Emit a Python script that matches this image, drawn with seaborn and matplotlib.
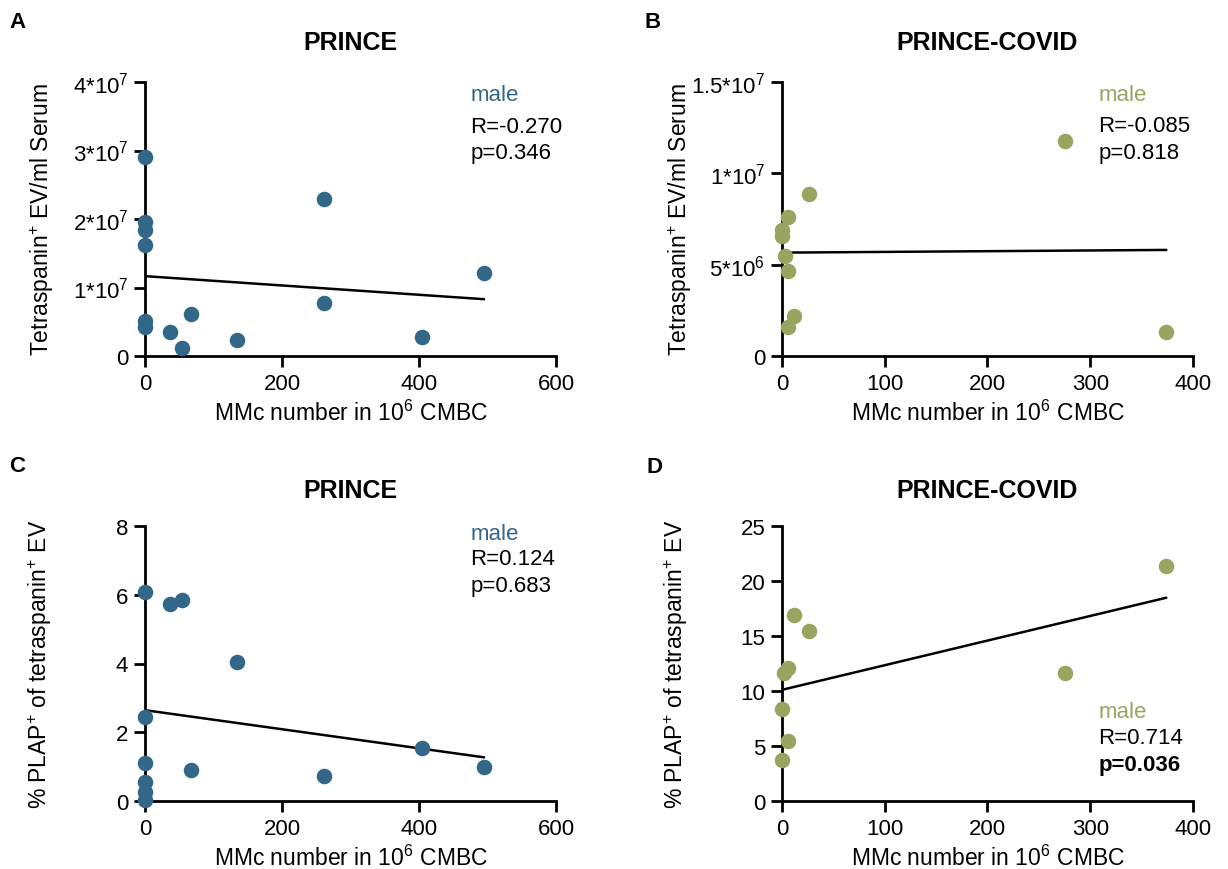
import numpy as np
import matplotlib
matplotlib.use('Agg')
import matplotlib.pyplot as plt
import seaborn as sns

# PRINCE (male) - MMc number vs EV counts / PLAP fraction
a_mmc = [0, 0, 0, 0, 0, 0, 36, 54, 67, 135, 261, 261, 405, 495]
a_ev = [2.90e7, 1.96e7, 1.84e7, 1.62e7, 0.51e7, 0.43e7, 0.35e7, 0.12e7, 0.62e7, 0.24e7, 2.29e7, 0.78e7, 0.28e7, 1.215e7]

c_mmc = [0, 0, 0, 0, 0, 0, 36, 54, 67, 135, 261, 405, 495]
c_plap = [6.08, 2.45, 1.11, 0.56, 0.27, 0.04, 5.73, 5.86, 0.90, 4.04, 0.73, 1.55, 1.00]

# PRINCE-COVID (male)
b_mmc = [0, 0, 5.5, 2.6, 5.5, 12, 5.5, 26, 275, 374]
b_ev = [0.688e7, 0.657e7, 0.76e7, 0.545e7, 0.464e7, 0.218e7, 0.157e7, 0.888e7, 1.177e7, 0.133e7]

d_mmc = [12, 26, 5.5, 1.6, 0, 5.5, 0, 275, 374]
d_plap = [16.88, 15.5, 12.1, 11.6, 8.33, 5.5, 3.7, 11.6, 21.4]

stats_a = ['male', 'R=-0.270', 'p=0.346']
stats_b = ['male', 'R=-0.085', 'p=0.818']
stats_c = ['male', 'R=0.124', 'p=0.683']
stats_d = ['male', 'R=0.714', 'p=0.036']

ev_label = 'Tetraspanin$^{+}$ EV/ml Serum'
plap_label = '% PLAP$^{+}$ of tetraspanin$^{+}$ EV'
x_label = 'MMc number in 10$^{6}$ CMBC'

a_yticks = [0, 1e7, 2e7, 3e7, 4e7]
a_yticklabels = ['0', '1*10$^{7}$', '2*10$^{7}$', '3*10$^{7}$', '4*10$^{7}$']
b_yticks = [0, 5e6, 1e7, 1.5e7]
b_yticklabels = ['0', '5*10$^{6}$', '1*10$^{7}$', '1.5*10$^{7}$']
c_yticks = [0, 2, 4, 6, 8]
d_yticks = [0, 5, 10, 15, 20, 25]
prince_xticks = [0, 200, 400, 600]
covid_xticks = [0, 100, 200, 300, 400]

blue = '#33678a'
green = '#97a560'

sns.set_style('ticks')
plt.rcParams['font.family'] = ['Liberation Sans', 'DejaVu Sans']
plt.rcParams['mathtext.fontset'] = 'custom'
plt.rcParams['mathtext.rm'] = 'Liberation Sans'
plt.rcParams['mathtext.it'] = 'Liberation Sans'
plt.rcParams['mathtext.default'] = 'regular'
for k in ['text.color', 'axes.labelcolor', 'xtick.color', 'ytick.color']:
    plt.rcParams[k] = 'black'

fig = plt.figure(figsize=(12.28, 8.7), dpi=100)
W, H = 1228, 870


def make_ax(left, top, right, bottom):
    return fig.add_axes([left / W, 1 - bottom / H, (right - left) / W, (bottom - top) / H])


def panel(ax, x, y, color, title, xticks, yticks, yticklabels, ylabel,
          ylabel_x, title_off, stats, stats_pos, letter, letter_xy, bold_p=False):
    sns.regplot(x=np.array(x), y=np.array(y), ax=ax, ci=None, color=color,
                scatter_kws={'s': 125, 'clip_on': False, 'zorder': 4, 'alpha': 1, 'linewidths': 0},
                line_kws={'color': 'black', 'lw': 1.8, 'zorder': 3})
    ax.set_xlim(xticks[0], xticks[-1])
    ax.set_ylim(yticks[0], yticks[-1])
    ax.set_xticks(xticks)
    ax.set_xticklabels([str(t) for t in xticks])
    ax.set_yticks(yticks)
    ax.set_yticklabels(yticklabels)
    sns.despine(ax=ax)
    for s in ['left', 'bottom']:
        ax.spines[s].set_linewidth(2)
        ax.spines[s].set_color('black')
    ax.tick_params(length=8, width=2, labelsize=16, color='black', labelcolor='black', pad=4)
    ax.set_xlabel(x_label, fontsize=16.5, va='center')
    ax.xaxis.set_label_coords(0.5, -0.205)
    ax.set_ylabel(ylabel, fontsize=16.5, va='center')
    ax.yaxis.set_label_coords(ylabel_x, 0.5)
    ax.text(0.5, 1 + title_off, title, transform=ax.transAxes, ha='center', va='center',
            fontsize=18, fontweight='bold')
    sx, sy = stats_pos
    ax.text(sx, sy[0], stats[0], transform=ax.transAxes, color=color, fontsize=16, va='center')
    ax.text(sx, sy[1], stats[1], transform=ax.transAxes, color='black', fontsize=16, va='center')
    ax.text(sx, sy[2], stats[2], transform=ax.transAxes, color='black', fontsize=16, va='center',
            fontweight='bold' if bold_p else 'normal')
    fig.text(letter_xy[0] / W, 1 - letter_xy[1] / H, letter, fontsize=16, fontweight='bold',
             ha='center', va='center')


ax_a = make_ax(145, 83, 556, 357)
ax_b = make_ax(782, 83, 1193, 357)
ax_c = make_ax(145, 527, 556, 802)
ax_d = make_ax(782, 527, 1193, 802)

panel(ax_a, a_mmc, a_ev, blue, 'PRINCE', prince_xticks, a_yticks, a_yticklabels, ev_label,
      -0.251, 0.146, stats_a, (0.791, [0.956, 0.839, 0.741]), 'A', (18, 23))
panel(ax_b, b_mmc, b_ev, green, 'PRINCE-COVID', covid_xticks, b_yticks, b_yticklabels, ev_label,
      -0.248, 0.146, stats_b, (0.770, [0.956, 0.843, 0.741]), 'B', (653, 23))
panel(ax_c, c_mmc, c_plap, blue, 'PRINCE', prince_xticks, c_yticks, [str(t) for t in c_yticks],
      plap_label, -0.255, 0.131, stats_c, (0.791, [0.971, 0.88, 0.782]), 'C', (17, 467))
panel(ax_d, d_mmc, d_plap, green, 'PRINCE-COVID', covid_xticks, d_yticks, [str(t) for t in d_yticks],
      plap_label, -0.258, 0.131, stats_d, (0.770, [0.325, 0.232, 0.131]), 'D', (654, 468), bold_p=True)

fig.savefig('out.png', dpi=100)
